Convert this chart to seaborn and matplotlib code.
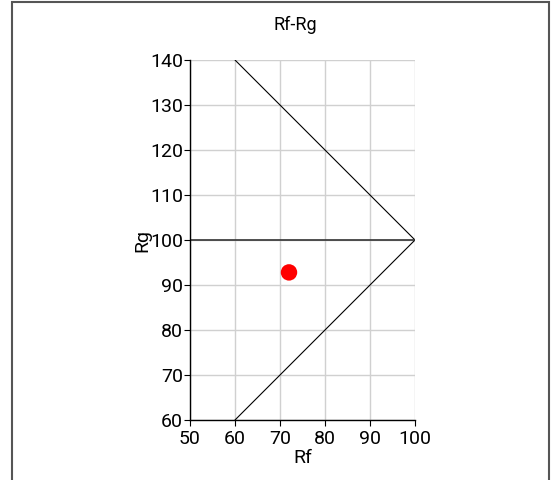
import matplotlib
matplotlib.use("Agg")
import matplotlib.pyplot as plt
import seaborn as sns
import pandas as pd
from matplotlib.patches import Rectangle

# boundary lines of the Rf-Rg region
upper_rf = [60, 100]
upper_rg = [140, 100]
lower_rf = [100, 60]
lower_rg = [100, 60]
ref_rf = [50, 100]
ref_rg = [100, 100]

# measured point
point_rf = [72]
point_rg = [92.8]

x_ticks = [50, 60, 70, 80, 90, 100]
y_ticks = [60, 70, 80, 90, 100, 110, 120, 130, 140]

sns.set_style("whitegrid")
plt.rcParams['font.family'] = ['Roboto', 'DejaVu Sans']

fig = plt.figure(figsize=(5.55, 4.8), dpi=100)
ax = fig.add_axes([190/555, 60/480, 225/555, 360/480])

sns.lineplot(x=upper_rf, y=upper_rg, color='black', lw=0.8, ax=ax)
sns.lineplot(x=lower_rf, y=lower_rg, color='black', lw=0.8, ax=ax, sort=False)
sns.lineplot(x=ref_rf, y=ref_rg, color='#333333', lw=1.2, ax=ax)
pts = pd.DataFrame({'Rf': point_rf, 'Rg': point_rg})
sns.scatterplot(data=pts, x='Rf', y='Rg', color='red', s=140, edgecolor='none',
                ax=ax, zorder=5)

ax.set_xlim(50, 100)
ax.set_ylim(60, 140)
ax.set_xticks(x_ticks)
ax.set_yticks(y_ticks)
ax.tick_params(labelsize=14, length=4, color='black', labelcolor='black',
               left=True, bottom=True)
ax.tick_params(axis='x', pad=3)
ax.tick_params(axis='y', pad=1)
ax.grid(color='#d0d0d0', lw=1)
for side in ['top', 'right']:
    ax.spines[side].set_visible(False)
for side in ['left', 'bottom']:
    ax.spines[side].set_color('black')
    ax.spines[side].set_linewidth(1)
ax.set_xlabel('Rf', fontsize=14, labelpad=1, color='black')
ax.set_ylabel('Rg', fontsize=14, labelpad=-1, color='black')

fig.text(295/555, 1 - 25/480, 'Rf-Rg', ha='center', va='center', fontsize=13,
         color='black')
fig.patches.append(Rectangle((12/555, -0.01), (549-12)/555, 1 - 2/480 + 0.01,
                             transform=fig.transFigure, fill=False,
                             edgecolor='#555555', lw=1.5))

fig.savefig('out.png', dpi=100)
